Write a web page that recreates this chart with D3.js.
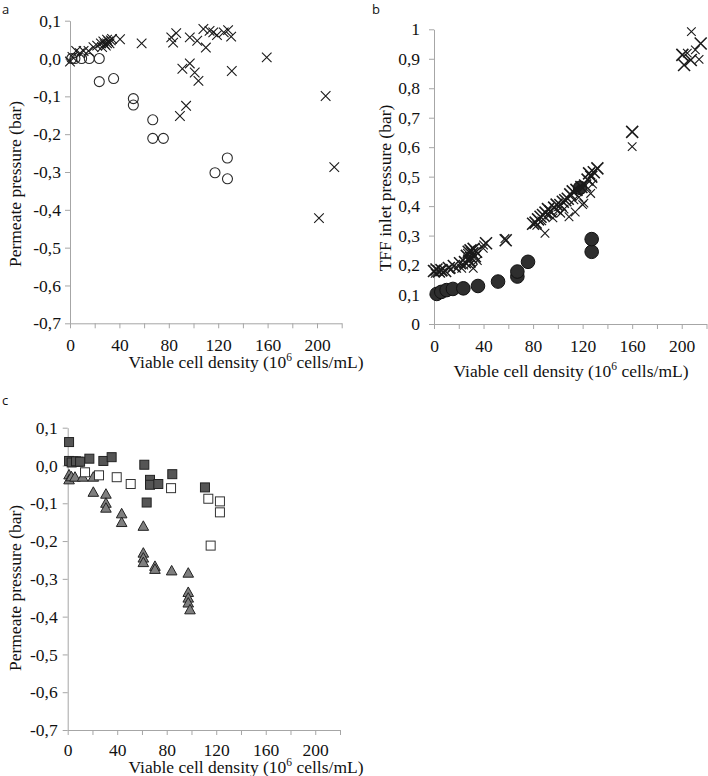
<!DOCTYPE html>
<html><head><meta charset="utf-8">
<script src="https://cdn.jsdelivr.net/npm/d3@7"></script>
<style>
body{margin:0;background:#fff;}
svg{display:block;}
svg text{font-family:'Liberation Serif','Times New Roman',Times,'DejaVu Serif',serif;}
svg text.panel-label{font-family:'Open Sans','DejaVu Sans',sans-serif;}
</style></head>
<body><svg id="c" width="708" height="776"></svg>
<script>
// ---------------- DATA ----------------
const xTickValues = [0,20,40,60,80,100,120,140,160,180,200,220];
const xTickLabels = ["0","","40","","80","","120","","160","","200",""];
const yTicksPermeate = [0.1,0,-0.1,-0.2,-0.3,-0.4,-0.5,-0.6,-0.7];
const yLabelsPermeate = ["0,1","0,0","-0,1","-0,2","-0,3","-0,4","-0,5","-0,6","-0,7"];
const yTicksInlet = [0,0.1,0.2,0.3,0.4,0.5,0.6,0.7,0.8,0.9,1];
const yLabelsInlet = ["0","0,1","0,2","0,3","0,4","0,5","0,6","0,7","0,8","0,9","1"];

// panel a
const aCircles = [[1.4,0],[4,0],[9.4,0],[15.6,0],[23.7,0],[23.7,-0.061],[35.3,-0.053],[51.3,-0.106],[51.3,-0.123],[67,-0.162],[67,-0.211],[75.6,-0.211],[117.4,-0.302],[127.4,-0.263],[127.5,-0.318]];
const aCrosses = [[0,-0.008],[2,0.004],[5,0.02],[8,0.014],[11,0.02],[15,0.02],[19,0.03],[22,0.034],[25,0.04],[26,0.03],[27,0.045],[28,0.038],[29,0.034],[30,0.05],[30,0.04],[31,0.045],[32,0.04],[33,0.048],[34,0.052],[40.5,0.051],[58,0.04],[82,0.056],[83.5,0.042],[86,0.067],[97,0.056],[103,0.047],[108,0.078],[110,0.029],[113,0.073],[116,0.069],[119,0.062],[124.5,0.069],[128,0.075],[130.5,0.058],[131,-0.033],[91,-0.027],[97,-0.013],[101,-0.037],[104,-0.059],[89,-0.152],[94,-0.125],[159.3,0.003],[207,-0.099],[214,-0.287],[201.6,-0.422]];

// panel b
const bCircles = [[2.2,0.102],[5.9,0.109],[10.2,0.115],[15.3,0.119],[23.7,0.121],[35.5,0.129],[51.7,0.144],[67.3,0.161],[67.3,0.178],[75.9,0.211],[117.9,0.462],[127.3,0.245],[127.3,0.288]];
const bCrossesLarge = [[0,0.18],[2,0.185],[4,0.178],[6,0.183],[9,0.18],[12,0.19],[16,0.197],[21,0.206],[25,0.21],[26.5,0.231],[28,0.245],[28.5,0.215],[29.5,0.25],[30,0.225],[31,0.24],[32,0.255],[33,0.23],[34,0.245],[42,0.274],[57.9,0.284],[80,0.34],[82,0.344],[84,0.355],[86,0.364],[88,0.37],[90,0.378],[92,0.39],[94,0.382],[97,0.395],[99,0.405],[102,0.404],[104,0.415],[106,0.42],[108,0.425],[110,0.44],[112,0.45],[115,0.455],[119,0.465],[122,0.47],[124,0.49],[125.2,0.511],[127,0.5],[129,0.515],[131.9,0.528],[160,0.652],[201.9,0.879],[200.5,0.913],[207.3,0.896],[215.3,0.952]];
const bCrossesSmall = [[1,0.172],[7,0.176],[14,0.186],[18.3,0.189],[22.4,0.189],[24,0.2],[27,0.24],[30,0.205],[31.7,0.189],[35,0.215],[39.8,0.257],[40,0.268],[57.3,0.29],[83,0.335],[87,0.35],[89.6,0.308],[93,0.37],[96,0.36],[100,0.385],[102.3,0.376],[105,0.39],[109,0.364],[113,0.421],[114,0.38],[117,0.43],[120,0.405],[121,0.41],[126.5,0.443],[128,0.475],[160,0.602],[204.5,0.919],[207.8,0.992],[214,0.898],[211,0.93]];

// panel c
const cDarkSquares = [[1.1,0.062],[1.1,0.012],[3.2,0.008],[6.7,0.011],[10,0.01],[17.5,0.018],[28.8,0.012],[35.5,0.022],[61.9,0.002],[66.5,-0.038],[66.5,-0.051],[73.2,-0.049],[84.5,-0.023],[63.8,-0.098],[110.9,-0.058]];
const cOpenSquares = [[4.5,0.011],[8.6,0.01],[14,-0.018],[25.3,-0.026],[39.6,-0.031],[50.9,-0.049],[83.5,-0.06],[113.6,-0.088],[123,-0.095],[123,-0.124],[115.5,-0.212]];
const cTriangles = [[1.1,-0.025],[1.1,-0.038],[3,-0.03],[5.9,-0.031],[12.1,-0.031],[20.7,-0.031],[20.7,-0.071],[30.9,-0.076],[30.9,-0.1],[30.9,-0.113],[43.6,-0.128],[43.6,-0.151],[61.1,-0.161],[61.1,-0.232],[61.1,-0.245],[61.1,-0.257],[70.5,-0.267],[70.5,-0.275],[84,-0.279],[97.4,-0.285],[97.4,-0.336],[97.4,-0.351],[97.4,-0.364],[98.8,-0.382]];

// ---------------- DRAW ----------------
const svg = d3.select("#c");
const serif = "'Liberation Serif','Times New Roman',Times,'DejaVu Serif',serif";
const axisColor = "#a6a6a6";
const FS = "17.5px";

function panel(cfg){
  const x = d3.scaleLinear().domain([0,220]).range([cfg.left,cfg.right]);
  const y = d3.scaleLinear().domain(cfg.yDomain).range([cfg.bottom,cfg.top]);
  const g = svg.append("g");
  const xa = g.append("g").attr("transform",`translate(0,${cfg.bottom})`)
    .call(d3.axisBottom(x).tickValues(xTickValues).tickSizeOuter(0).tickSizeInner(5).tickPadding(cfg.xPad)
      .tickFormat((d,i)=>xTickLabels[i]));
  const ya = g.append("g").attr("transform",`translate(${cfg.left},0)`)
    .call(d3.axisLeft(y).tickValues(cfg.yTicks).tickSizeOuter(0).tickSizeInner(5).tickPadding(cfg.yPad)
      .tickFormat((d,i)=>cfg.yLabels[i]));
  [xa,ya].forEach(a=>{
    a.attr("font-family",serif).attr("font-size",17.5);
    a.selectAll("path,line").attr("stroke",axisColor);
    a.selectAll("text").attr("fill","#111").style("font-family",serif).style("font-size",FS);
  });
  // titles
  const xt = g.append("text").attr("x",cfg.xTitleX).attr("y",cfg.xTitleY).attr("text-anchor","middle")
    .style("font-family",serif).style("font-size",FS).attr("fill","#111");
  xt.append("tspan").text("Viable cell density (10");
  xt.append("tspan").style("font-size","11.5px").attr("dy",-7).text("6");
  xt.append("tspan").attr("dy",7).text(" cells/mL)");
  g.append("text").attr("transform",`translate(${cfg.yTitleX},${cfg.yTitleY}) rotate(-90)`)
    .attr("text-anchor","middle").style("font-family",serif).style("font-size",FS).attr("fill","#111").text(cfg.yTitle);
  g.append("text").attr("class","panel-label").attr("x",cfg.labX).attr("y",cfg.labY)
    .style("font-size","13px").attr("fill","#111").text(cfg.lab);
  return {g,x,y};
}

function crosses(p,data,s,w){
  p.g.append("g").selectAll("path").data(data).join("path")
    .attr("d",d=>{const cx=p.x(d[0]),cy=p.y(d[1]);return `M${cx-s},${cy-s}L${cx+s},${cy+s}M${cx-s},${cy+s}L${cx+s},${cy-s}`;})
    .attr("stroke","#1a1a1a").attr("stroke-width",w).attr("fill","none");
}

// panel a
const pa = panel({left:70,right:341.7,top:20.7,bottom:323.3,yDomain:[-0.7,0.1],yTicks:yTicksPermeate,yLabels:yLabelsPermeate,
  xPad:10,yPad:4,xTitleX:246,xTitleY:368,yTitleX:21,yTitleY:184,yTitle:"Permeate pressure (bar)",lab:"a",labX:2,labY:14});
pa.g.append("g").selectAll("circle").data(aCircles).join("circle")
  .attr("cx",d=>pa.x(d[0])).attr("cy",d=>pa.y(d[1])).attr("r",5)
  .attr("fill","none").attr("stroke","#2a2a2a").attr("stroke-width",1.1);
crosses(pa,aCrosses,4.8,1.1);

// panel b
const pb = panel({left:434,right:706.5,top:29.3,bottom:324,yDomain:[0,1],yTicks:yTicksInlet,yLabels:yLabelsInlet,
  xPad:11,yPad:9,xTitleX:571,xTitleY:377,yTitleX:391,yTitleY:188,yTitle:"TFF inlet pressure (bar)",lab:"b",labX:372,labY:14});
pb.g.append("g").selectAll("circle").data(bCircles).join("circle")
  .attr("cx",d=>pb.x(d[0])).attr("cy",d=>pb.y(d[1])).attr("r",6.8)
  .attr("fill","#2e2e2e").attr("stroke","#111").attr("stroke-width",1);
crosses(pb,bCrossesSmall,4.3,1.1);
crosses(pb,bCrossesLarge,6,1.6);

// panel c
const pc = panel({left:67.7,right:340,top:427.7,bottom:730,yDomain:[-0.7,0.1],yTicks:yTicksPermeate,yLabels:yLabelsPermeate,
  xPad:9,yPad:5,xTitleX:246,xTitleY:772.5,yTitleX:21,yTitleY:588,yTitle:"Permeate pressure (bar)",lab:"c",labX:2,labY:405});
const sq = 9;
pc.g.append("g").selectAll("path").data(cTriangles).join("path")
  .attr("d",d=>{const cx=pc.x(d[0]),cy=pc.y(d[1]);return `M${cx},${cy-5.5}L${cx+5.3},${cy+4}L${cx-5.3},${cy+4}Z`;})
  .attr("fill","#7f7f7f").attr("stroke","#222").attr("stroke-width",1);
pc.g.append("g").selectAll("rect").data(cOpenSquares).join("rect")
  .attr("x",d=>pc.x(d[0])-sq/2).attr("y",d=>pc.y(d[1])-sq/2).attr("width",sq).attr("height",sq)
  .attr("fill","#fff").attr("stroke","#333").attr("stroke-width",1);
pc.g.append("g").selectAll("rect").data(cDarkSquares).join("rect")
  .attr("x",d=>pc.x(d[0])-sq/2).attr("y",d=>pc.y(d[1])-sq/2).attr("width",sq).attr("height",sq)
  .attr("fill","#555").attr("stroke","#222").attr("stroke-width",1);
</script></body></html>
